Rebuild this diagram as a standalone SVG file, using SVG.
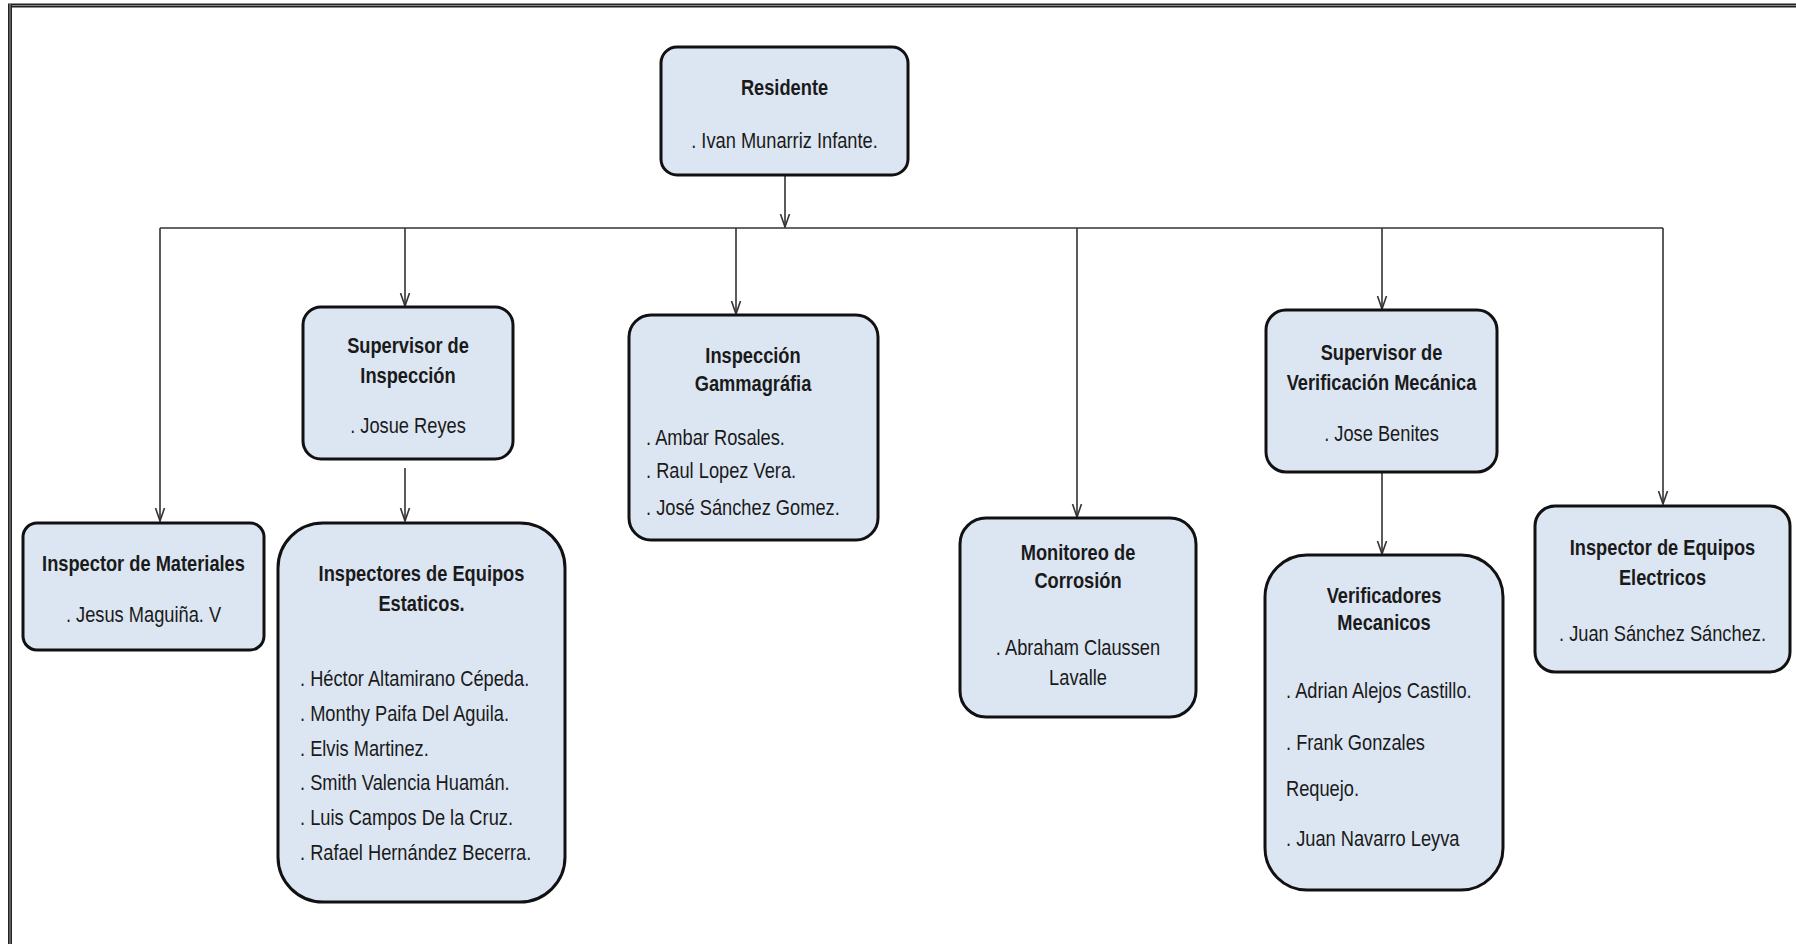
<svg xmlns="http://www.w3.org/2000/svg" width="1796" height="944" viewBox="0 0 1796 944">
<defs>
<style>
.box{fill:#dce6f2;stroke:#111;stroke-width:3}
.t{font-family:"Liberation Sans",Arial,sans-serif;font-size:22px;fill:#1a1a1a}
.b{font-weight:bold;text-anchor:middle}
.c{text-anchor:middle}
.ln{stroke:#333;stroke-width:1.6;fill:none}
</style>
<marker id="ah" markerUnits="userSpaceOnUse" markerWidth="14" markerHeight="12" refX="13" refY="5" orient="auto" viewBox="0 0 14 10">
<path d="M0,0.5 L13,5 L0,9.5" fill="none" stroke="#333" stroke-width="1.6"/>
</marker>
</defs>
<rect width="1796" height="944" fill="#fff"/>
<g id="frame">
<line x1="8" y1="5.5" x2="1796" y2="5.5" stroke="#222" stroke-width="4"/>
<line x1="8" y1="5.5" x2="1796" y2="5.5" stroke="#888" stroke-width="1.2"/>
<line x1="10" y1="4" x2="10" y2="944" stroke="#222" stroke-width="4"/>
<line x1="10" y1="4" x2="10" y2="944" stroke="#888" stroke-width="1.2"/>
</g>
<g id="connectors">
<line class="ln" x1="785" y1="175" x2="785" y2="227" marker-end="url(#ah)"/>
<line class="ln" x1="160" y1="228" x2="1663" y2="228"/>
<line class="ln" x1="160" y1="228" x2="160" y2="521" marker-end="url(#ah)"/>
<line class="ln" x1="405" y1="228" x2="405" y2="306" marker-end="url(#ah)"/>
<line class="ln" x1="736" y1="228" x2="736" y2="314" marker-end="url(#ah)"/>
<line class="ln" x1="1077" y1="228" x2="1077" y2="517" marker-end="url(#ah)"/>
<line class="ln" x1="1382" y1="228" x2="1382" y2="309" marker-end="url(#ah)"/>
<line class="ln" x1="1663" y1="228" x2="1663" y2="504" marker-end="url(#ah)"/>
<line class="ln" x1="405" y1="468" x2="405" y2="521" marker-end="url(#ah)"/>
<line class="ln" x1="1382" y1="472" x2="1382" y2="554" marker-end="url(#ah)"/>
</g>
<g id="residente">
<rect class="box" x="661" y="47" width="247" height="128" rx="16"/>
<g transform="translate(784.5 0) scale(0.83 1)">
<text class="t b" x="0" y="95">Residente</text>
<text class="t c" x="0" y="148">. Ivan Munarriz Infante.</text>
</g>
</g>
<g id="supervisor-inspeccion">
<rect class="box" x="303" y="307" width="210" height="152" rx="18"/>
<g transform="translate(408 0) scale(0.83 1)">
<text class="t b" x="0" y="353">Supervisor de</text>
<text class="t b" x="0" y="383">Inspección</text>
<text class="t c" x="0" y="433">. Josue Reyes</text>
</g>
</g>
<g id="inspeccion-gammagrafia">
<rect class="box" x="629" y="315" width="249" height="225" rx="22"/>
<g transform="translate(753 0) scale(0.83 1)">
<text class="t b" x="0" y="363">Inspección</text>
<text class="t b" x="0" y="391">Gammagráfia</text>
</g>
<g transform="translate(646 0) scale(0.83 1)">
<text class="t" x="0" y="445">. Ambar Rosales.</text>
<text class="t" x="0" y="478">. Raul Lopez Vera.</text>
<text class="t" x="0" y="515">. José Sánchez Gomez.</text>
</g>
</g>
<g id="inspector-materiales">
<rect class="box" x="23" y="523" width="241" height="127" rx="14"/>
<g transform="translate(143.5 0) scale(0.83 1)">
<text class="t b" x="0" y="571">Inspector de Materiales</text>
<text class="t c" x="0" y="622">. Jesus Maguiña. V</text>
</g>
</g>
<g id="inspectores-estaticos">
<rect class="box" x="278" y="523" width="287" height="379" rx="45"/>
<g transform="translate(421.5 0) scale(0.83 1)">
<text class="t b" x="0" y="581">Inspectores de Equipos</text>
<text class="t b" x="0" y="611">Estaticos.</text>
</g>
<g transform="translate(300 0) scale(0.83 1)">
<text class="t" x="0" y="686">. Héctor Altamirano Cépeda.</text>
<text class="t" x="0" y="721">. Monthy Paifa Del Aguila.</text>
<text class="t" x="0" y="756">. Elvis Martinez.</text>
<text class="t" x="0" y="790">. Smith Valencia Huamán.</text>
<text class="t" x="0" y="825">. Luis Campos De la Cruz.</text>
<text class="t" x="0" y="860">. Rafael Hernández Becerra.</text>
</g>
</g>
<g id="monitoreo-corrosion">
<rect class="box" x="960" y="518" width="236" height="199" rx="26"/>
<g transform="translate(1078 0) scale(0.83 1)">
<text class="t b" x="0" y="560">Monitoreo de</text>
<text class="t b" x="0" y="588">Corrosión</text>
<text class="t c" x="0" y="655">. Abraham Claussen</text>
<text class="t c" x="0" y="685">Lavalle</text>
</g>
</g>
<g id="supervisor-verificacion">
<rect class="box" x="1266" y="310" width="231" height="162" rx="20"/>
<g transform="translate(1381.5 0) scale(0.83 1)">
<text class="t b" x="0" y="360">Supervisor de</text>
<text class="t b" x="0" y="390">Verificación Mecánica</text>
<text class="t c" x="0" y="441">. Jose Benites</text>
</g>
</g>
<g id="verificadores-mecanicos">
<rect class="box" x="1265" y="555" width="238" height="335" rx="42"/>
<g transform="translate(1384 0) scale(0.83 1)">
<text class="t b" x="0" y="603">Verificadores</text>
<text class="t b" x="0" y="630">Mecanicos</text>
</g>
<g transform="translate(1286 0) scale(0.83 1)">
<text class="t" x="0" y="698">. Adrian Alejos Castillo.</text>
<text class="t" x="0" y="750">. Frank Gonzales</text>
<text class="t" x="0" y="796">Requejo.</text>
<text class="t" x="0" y="846">. Juan Navarro Leyva</text>
</g>
</g>
<g id="inspector-electricos">
<rect class="box" x="1535" y="506" width="255" height="166" rx="20"/>
<g transform="translate(1662.5 0) scale(0.83 1)">
<text class="t b" x="0" y="555">Inspector de Equipos</text>
<text class="t b" x="0" y="585">Electricos</text>
<text class="t c" x="0" y="641">. Juan Sánchez Sánchez.</text>
</g>
</g>
</svg>
